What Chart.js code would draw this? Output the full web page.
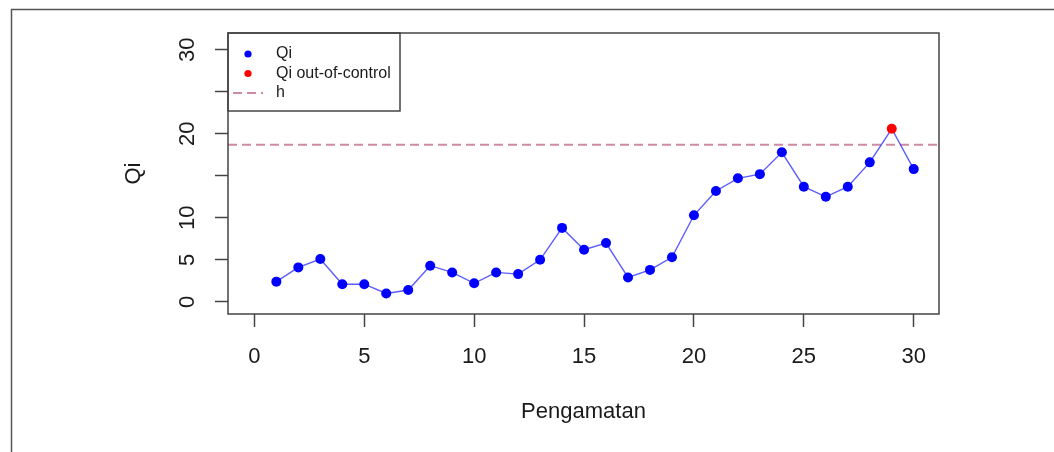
<!DOCTYPE html>
<html>
<head>
    <meta http-equiv="Content-Type" content="text/html; charset=UTF-8">
    <title>Qi</title>
    <script src="https://cdn.jsdelivr.net/npm/chart.js@4.4.0/dist/chart.umd.min.js"></script>
    <style>
        html, body { margin: 0; padding: 0; background: #fff; }
    </style>
</head>
<body>
    <canvas id="qiChart" width="1054" height="452"></canvas>

    <script>
        // data
        const observations = [1, 2, 3, 4, 5, 6, 7, 8, 9, 10, 11, 12, 13, 14, 15, 16, 17, 18, 19, 20, 21, 22, 23, 24, 25, 26, 27, 28, 29, 30];
        const qiValues = [2.4, 4.1, 5.1, 2.1, 2.1, 1.0, 1.4, 4.3, 3.5, 2.2, 3.5, 3.3, 5.0, 8.8, 6.2, 7.0, 2.9, 3.8, 5.3, 10.3, 13.2, 14.7, 15.2, 17.8, 13.7, 12.5, 13.7, 16.6, 20.6, 15.8];
        const hValue = 18.7;

        const xTicks = [0, 5, 10, 15, 20, 25, 30];
        const xTickLabels = ['0', '5', '10', '15', '20', '25', '30'];
        const yTicks = [0, 5, 10, 15, 20, 25, 30];
        const yTickLabels = ['0', '5', '10', '', '20', '', '30'];
        const xLimits = [-1.2, 31.15];
        const yLimits = [-1.45, 32.0];

        const FONT = "'Liberation Sans', Arial, sans-serif";
        const INK = '#1a1a1a';
        const FRAME = '#444';

        const qiPoints = observations.map((x, i) => ({ x: x, y: qiValues[i] }));
        const outPoints = qiPoints.filter(p => p.y > hValue);
        const hPoints = [{ x: xLimits[0], y: hValue }, { x: xLimits[1], y: hValue }];

        // R style box, outer frame and legend
        const boxPlugin = {
            id: 'rBox',
            afterDraw(chart) {
                const ctx = chart.ctx;
                const a = chart.chartArea;
                ctx.save();
                ctx.strokeStyle = '#555';
                ctx.lineWidth = 1.5;
                ctx.strokeRect(11.5, 9.5, 2000, 2000);

                ctx.strokeStyle = FRAME;
                ctx.lineWidth = 1.5;
                ctx.strokeRect(a.left, a.top, a.right - a.left, a.bottom - a.top);

                // legend (topleft)
                const lx = a.left, ly = a.top, lw = 172, lh = 78;
                ctx.strokeRect(lx, ly, lw, lh);
                ctx.font = '16px ' + FONT;
                ctx.textBaseline = 'middle';
                ctx.textAlign = 'left';
                chart.data.datasets.forEach((ds, i) => {
                    const cy = ly + 21 + i * 19.5;
                    if (ds.showLine && ds.pointRadius === 0) {
                        ctx.strokeStyle = ds.borderColor;
                        ctx.lineWidth = ds.borderWidth;
                        ctx.setLineDash(ds.borderDash || []);
                        ctx.beginPath();
                        ctx.moveTo(lx + 5, cy);
                        ctx.lineTo(lx + 35, cy);
                        ctx.stroke();
                        ctx.setLineDash([]);
                    } else {
                        ctx.fillStyle = ds.legendColor;
                        ctx.beginPath();
                        ctx.arc(lx + 20, cy, 3.6, 0, Math.PI * 2);
                        ctx.fill();
                    }
                    ctx.fillStyle = INK;
                    ctx.fillText(ds.label, lx + 48, cy);
                });
                ctx.restore();
            }
        };

        new Chart(document.getElementById('qiChart'), {
            type: 'scatter',
            data: {
                datasets: [{
                    label: 'Qi',
                    data: qiPoints,
                    showLine: true,
                    borderColor: 'rgba(50,50,255,0.8)',
                    borderWidth: 1.4,
                    backgroundColor: '#0000ff',
                    legendColor: '#0000ff',
                    pointBackgroundColor: '#0000ff',
                    pointBorderWidth: 0,
                    pointRadius: c => (qiValues[c.dataIndex] > hValue ? 0 : 5),
                    order: 1
                }, {
                    label: 'Qi out-of-control',
                    data: outPoints,
                    showLine: false,
                    backgroundColor: '#ff0000',
                    legendColor: '#ff0000',
                    pointBackgroundColor: '#ff0000',
                    pointBorderWidth: 0,
                    pointRadius: 5,
                    order: 0
                }, {
                    label: 'h',
                    data: hPoints,
                    showLine: true,
                    borderColor: '#cf8aa3',
                    borderWidth: 2,
                    borderDash: [9, 5],
                    pointRadius: 0,
                    order: 2
                }]
            },
            options: {
                responsive: false,
                animation: false,
                devicePixelRatio: 1,
                layout: { padding: { left: 0, top: 33, right: 115, bottom: 0 } },
                plugins: {
                    legend: { display: false },
                    tooltip: { enabled: false }
                },
                scales: {
                    x: {
                        type: 'linear',
                        min: xLimits[0],
                        max: xLimits[1],
                        afterBuildTicks: s => { s.ticks = xTicks.map(v => ({ value: v })); },
                        afterFit: s => { s.height = 138; },
                        border: { display: false },
                        grid: { drawOnChartArea: false, drawTicks: true, tickLength: 13, tickColor: FRAME, tickWidth: 1.5 },
                        ticks: {
                            autoSkip: false, maxRotation: 0, padding: 17, color: INK,
                            font: { family: FONT, size: 22 },
                            callback: v => xTickLabels[xTicks.indexOf(v)]
                        },
                        title: { display: true, text: 'Pengamatan', color: INK, font: { family: FONT, size: 22 }, padding: { top: 0, bottom: 27 } }
                    },
                    y: {
                        type: 'linear',
                        min: yLimits[0],
                        max: yLimits[1],
                        afterBuildTicks: s => { s.ticks = yTicks.map(v => ({ value: v })); },
                        afterFit: s => { s.width = 228; },
                        border: { display: false },
                        grid: { drawOnChartArea: false, drawTicks: true, tickLength: 13, tickColor: FRAME, tickWidth: 1.5 },
                        ticks: {
                            autoSkip: false, minRotation: 90, maxRotation: 90, crossAlign: 'center', padding: 15, color: INK,
                            font: { family: FONT, size: 22 },
                            callback: v => yTickLabels[yTicks.indexOf(v)]
                        },
                        title: { display: true, text: 'Qi', color: INK, font: { family: FONT, size: 22 }, padding: { top: 121, bottom: 0 } }
                    }
                }
            },
            plugins: [boxPlugin]
        });
    </script>
</body>
</html>
